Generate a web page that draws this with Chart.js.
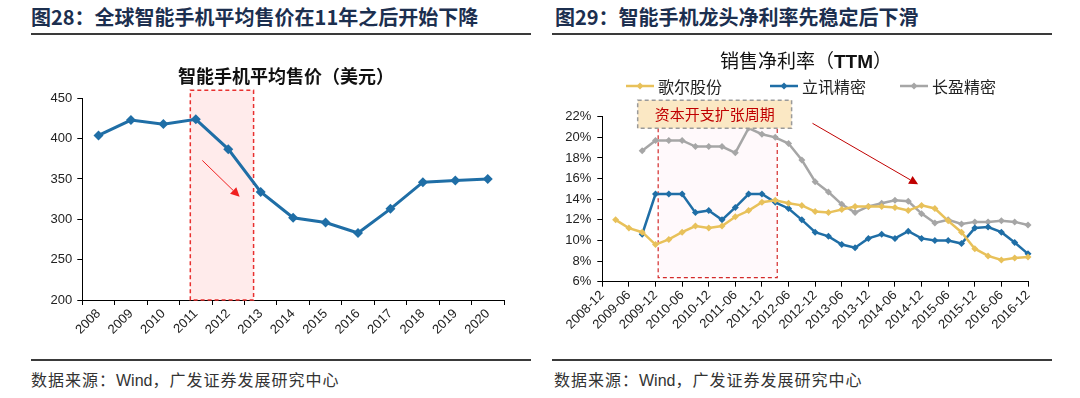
<!DOCTYPE html>
<html>
<head>
<meta charset="utf-8">
<script src="https://cdn.jsdelivr.net/npm/chart.js@4.4.0/dist/chart.umd.min.js"></script>
<style>
  body { margin: 0; width: 1080px; height: 398px; background: #fff; position: relative; overflow: hidden;
         font-family: "Noto Sans CJK SC", sans-serif; }
  .hd { position: absolute; top: 3px; font-size: 20px; font-weight: bold; color: #1c2f4f; line-height: 28px; white-space: nowrap; }
  .rule { position: absolute; height: 2px; background: #3a3a3a; }
  .src { position: absolute; top: 367px; font-size: 16px; color: #333; letter-spacing: 1px; white-space: nowrap; }
  .src span { font-family: "Liberation Sans", Arial, sans-serif; letter-spacing: 0; }
  .box { position: absolute; top: 40px; width: 540px; height: 305px; }
  .ct { position: absolute; width: 260px; text-align: center; color: #111; white-space: nowrap; }
  .ct b { font-family: "Liberation Sans", Arial, sans-serif; }
  .lg { position: absolute; top: 76px; height: 20px; font-size: 16px; color: #222; display: flex; align-items: center; white-space: nowrap; }
  .lg svg { margin-right: 4px; }
</style>
</head>
<body>
<div class="hd" style="left:31px">图28：全球智能手机平均售价在11年之后开始下降</div>
<div class="hd" style="left:555px">图29：智能手机龙头净利率先稳定后下滑</div>
<div class="rule" style="left:31px; width:500px; top:33px"></div>
<div class="rule" style="left:552px; width:500px; top:33px"></div>

<div class="box" style="left:0"><canvas id="priceChart" width="540" height="305"></canvas></div>
<div class="box" style="left:540px"><canvas id="marginChart" width="540" height="305"></canvas></div>
<div class="ct" style="left:156px; top:63px; font-size:18px; line-height:24px; font-weight:bold">智能手机平均售价（美元）</div>
<div class="ct" style="left:676px; top:47px; font-size:19px; line-height:26px">销售净利率（<b>TTM</b>）</div>
<div id="legend"></div>

<div class="rule" style="left:31px; width:500px; top:359px"></div>
<div class="rule" style="left:552px; width:500px; top:359px"></div>
<div class="src" style="left:31px">数据来源：<span>Wind</span>，广发证券发展研究中心</div>
<div class="src" style="left:554px">数据来源：<span>Wind</span>，广发证券发展研究中心</div>

<script>
// left chart data
const years = ['2008', '2009', '2010', '2011', '2012', '2013', '2014', '2015', '2016', '2017', '2018', '2019', '2020'];
const avgPrice = [404, 423, 418, 424, 387, 334, 302, 296, 283, 313, 346, 348, 350];
const priceTicks = [200, 250, 300, 350, 400, 450];

// right chart data (TTM net margin, %)
const quarters = ['2008-12', '2009-03', '2009-06', '2009-09', '2009-12', '2010-03', '2010-06', '2010-09',
  '2010-12', '2011-03', '2011-06', '2011-09', '2011-12', '2012-03', '2012-06', '2012-09', '2012-12',
  '2013-03', '2013-06', '2013-09', '2013-12', '2014-03', '2014-06', '2014-09', '2014-12', '2015-03',
  '2015-06', '2015-09', '2015-12', '2016-03', '2016-06', '2016-09', '2016-12'];
const goertek = [null, 12.0, 11.2, 10.8, 9.6, 10.1, 10.8, 11.4, 11.2, 11.4, 12.3, 12.9, 13.7, 13.9, 13.6, 13.4,
  12.8, 12.7, 13.0, 13.3, 13.3, 13.3, 13.2, 12.9, 13.4, 13.1, 11.9, 10.8, 9.2, 8.5, 8.1, 8.3, 8.4];
const luxshare = [null, null, null, 10.6, 14.5, 14.5, 14.5, 12.7, 12.9, 12.0, 13.2, 14.5, 14.5, 13.7, 13.1, 12.0,
  10.8, 10.4, 9.6, 9.3, 10.2, 10.6, 10.2, 10.9, 10.2, 10.0, 10.0, 9.7, 11.2, 11.3, 10.8, 9.8, 8.7];
const everwin = [null, null, null, 18.7, 19.7, 19.7, 19.7, 19.1, 19.1, 19.1, 18.5, 20.9, 20.3, 20.0, 19.4, 17.8,
  15.7, 14.7, 13.5, 12.7, 13.3, 13.6, 13.9, 13.8, 12.6, 11.7, 12.0, 11.6, 11.8, 11.8, 11.9, 11.8, 11.5];
const marginTicks = [6, 8, 10, 12, 14, 16, 18, 20, 22];
const seriesNames = ['歌尔股份', '立讯精密', '长盈精密'];
const seriesColors = ['#e8c15a', '#1f6ea6', '#a6a6a6'];

const CJK = '"Noto Sans CJK SC", sans-serif';
Chart.defaults.font.family = '"Liberation Sans", Arial, sans-serif';
Chart.defaults.color = '#222';

function arrow(ctx, x0, y0, x1, y1, color) {
  const a = Math.atan2(y1 - y0, x1 - x0), h = 9, w = 4.5;
  const bx = x1 - h * Math.cos(a), by = y1 - h * Math.sin(a);
  ctx.save();
  ctx.strokeStyle = color;
  ctx.fillStyle = color;
  ctx.lineWidth = 1;
  ctx.beginPath(); ctx.moveTo(x0, y0); ctx.lineTo(bx, by); ctx.stroke();
  ctx.beginPath();
  ctx.moveTo(x1, y1);
  ctx.lineTo(bx + w * Math.sin(a), by - w * Math.cos(a));
  ctx.lineTo(bx - w * Math.sin(a), by + w * Math.cos(a));
  ctx.closePath();
  ctx.fill();
  ctx.restore();
}

// red dashed box + arrow on the price chart
const priceDeco = {
  id: 'priceDeco',
  beforeDatasetsDraw(chart) {
    const { ctx, scales: { x, y } } = chart;
    const l = x.getPixelForValue(2.83), r = x.getPixelForValue(4.78);
    const t = y.getPixelForValue(460), b = y.getPixelForValue(200);
    ctx.save();
    ctx.fillStyle = 'rgba(255,0,0,0.08)';
    ctx.fillRect(l, t, r - l, b - t);
    ctx.strokeStyle = '#e8302f';
    ctx.lineWidth = 1.5;
    ctx.setLineDash([4, 3]);
    ctx.strokeRect(l, t, r - l, b - t);
    ctx.restore();
  },
  afterDatasetsDraw(chart) {
    const { ctx, scales: { x, y } } = chart;
    arrow(ctx, x.getPixelForValue(3.2), y.getPixelForValue(373), x.getPixelForValue(4.35), y.getPixelForValue(328), '#f02020');
  }
};

const marginDeco = {
  id: 'marginDeco',
  beforeDatasetsDraw(chart) {
    const { ctx, scales: { x, y } } = chart;
    const l = x.getPixelForValue(4.2), r = x.getPixelForValue(13.15);
    const t = y.getPixelForValue(20.87), b = y.getPixelForValue(6.39);
    ctx.save();
    ctx.fillStyle = 'rgba(255,0,100,0.025)';
    ctx.fillRect(l, t, r - l, b - t);
    ctx.strokeStyle = '#d42a2a';
    ctx.lineWidth = 1.2;
    ctx.setLineDash([4, 3]);
    ctx.beginPath();
    ctx.moveTo(l, t); ctx.lineTo(l, b); ctx.lineTo(r, b); ctx.lineTo(r, t);
    ctx.stroke();
    ctx.restore();
  },
  afterDatasetsDraw(chart) {
    const { ctx, scales: { x, y } } = chart;
    const l = x.getPixelForValue(2.66), r = x.getPixelForValue(14.23);
    const t = y.getPixelForValue(23.6), b = y.getPixelForValue(20.87);
    ctx.save();
    ctx.fillStyle = '#fbe8c4';
    ctx.fillRect(l, t, r - l, b - t);
    ctx.strokeStyle = '#9a9a9a';
    ctx.lineWidth = 1.5;
    ctx.setLineDash([4, 3]);
    ctx.strokeRect(l, t, r - l, b - t);
    ctx.fillStyle = '#c00000';
    ctx.font = '15px ' + CJK;
    ctx.textAlign = 'center';
    ctx.textBaseline = 'middle';
    ctx.fillText('资本开支扩张周期', (l + r) / 2, (t + b) / 2);
    ctx.restore();
    arrow(ctx, x.getPixelForValue(15.8), y.getPixelForValue(21.36), x.getPixelForValue(23.74), y.getPixelForValue(15.44), '#c00000');
  }
};

new Chart(document.getElementById('priceChart'), {
  type: 'line',
  data: {
    labels: years,
    datasets: [{
      data: avgPrice,
      borderColor: '#1f6ea6',
      backgroundColor: '#1f6ea6',
      borderWidth: 3,
      pointStyle: 'rectRot',
      pointRadius: 5,
      pointBorderWidth: 0,
      tension: 0
    }]
  },
  options: {
    responsive: false,
    animation: false,
    layout: { padding: { top: 58.3, right: 36, bottom: 0, left: 0 } },
    plugins: { legend: { display: false }, tooltip: { enabled: false } },
    scales: {
      x: {
        offset: true,
        grid: { offset: true, drawOnChartArea: false, tickLength: 5, color: '#000' },
        border: { color: '#000' },
        ticks: { maxRotation: 45, minRotation: 45, padding: 1, font: { size: 13 }, color: '#222' },
        afterFit: s => { s.height = 45; }
      },
      y: {
        min: 200, max: 450,
        afterBuildTicks: s => { s.ticks = priceTicks.map(v => ({ value: v })); },
        grid: { drawOnChartArea: false, tickLength: 5, color: '#000' },
        border: { color: '#000' },
        ticks: { padding: 5, font: { size: 13 }, color: '#222' },
        afterFit: s => { s.width = 82.3; }
      }
    }
  },
  plugins: [priceDeco]
});

const hideOdd = c => (c.index % 2 ? 'rgba(0,0,0,0)' : '#000');

new Chart(document.getElementById('marginChart'), {
  type: 'line',
  data: {
    labels: quarters,
    datasets: [goertek, luxshare, everwin].map((d, i) => ({
      label: seriesNames[i],
      data: d,
      borderColor: seriesColors[i],
      backgroundColor: seriesColors[i],
      borderWidth: 2.5,
      pointStyle: 'rectRot',
      pointRadius: 3.5,
      pointBorderWidth: 0,
      tension: 0
    }))
  },
  options: {
    responsive: false,
    animation: false,
    layout: { padding: { top: 76.7, right: 52, bottom: 0, left: 0 } },
    plugins: { legend: { display: false }, tooltip: { enabled: false } },
    scales: {
      x: {
        offset: false,
        grid: { drawOnChartArea: false, tickLength: 5, color: hideOdd },
        border: { color: '#000' },
        ticks: {
          autoSkip: false, maxRotation: 45, minRotation: 45, padding: 1, font: { size: 13 }, color: '#222',
          callback: (v, i) => (i % 2 ? '' : quarters[i])
        },
        afterFit: s => { s.height = 63.3; }
      },
      y: {
        min: 6, max: 22,
        afterBuildTicks: s => { s.ticks = marginTicks.map(v => ({ value: v })); },
        grid: { drawOnChartArea: false, tickLength: 5, color: '#000' },
        border: { color: '#000' },
        ticks: { padding: 6, font: { size: 13 }, color: '#222', callback: v => v + '%' },
        afterFit: s => { s.width = 62.3; }
      }
    }
  },
  plugins: [marginDeco]
});

// html legend for the margin chart
const legendX = [626, 770, 900];
document.getElementById('legend').innerHTML = seriesNames.map((n, i) =>
  '<div class="lg" style="left:' + legendX[i] + 'px">' +
  '<svg width="28" height="10"><line x1="0" y1="5" x2="28" y2="5" stroke="' + seriesColors[i] + '" stroke-width="2.5"/>' +
  '<polygon points="14,1.5 17.5,5 14,8.5 10.5,5" fill="' + seriesColors[i] + '"/></svg>' + n + '</div>'
).join('');
</script>
</body>
</html>
